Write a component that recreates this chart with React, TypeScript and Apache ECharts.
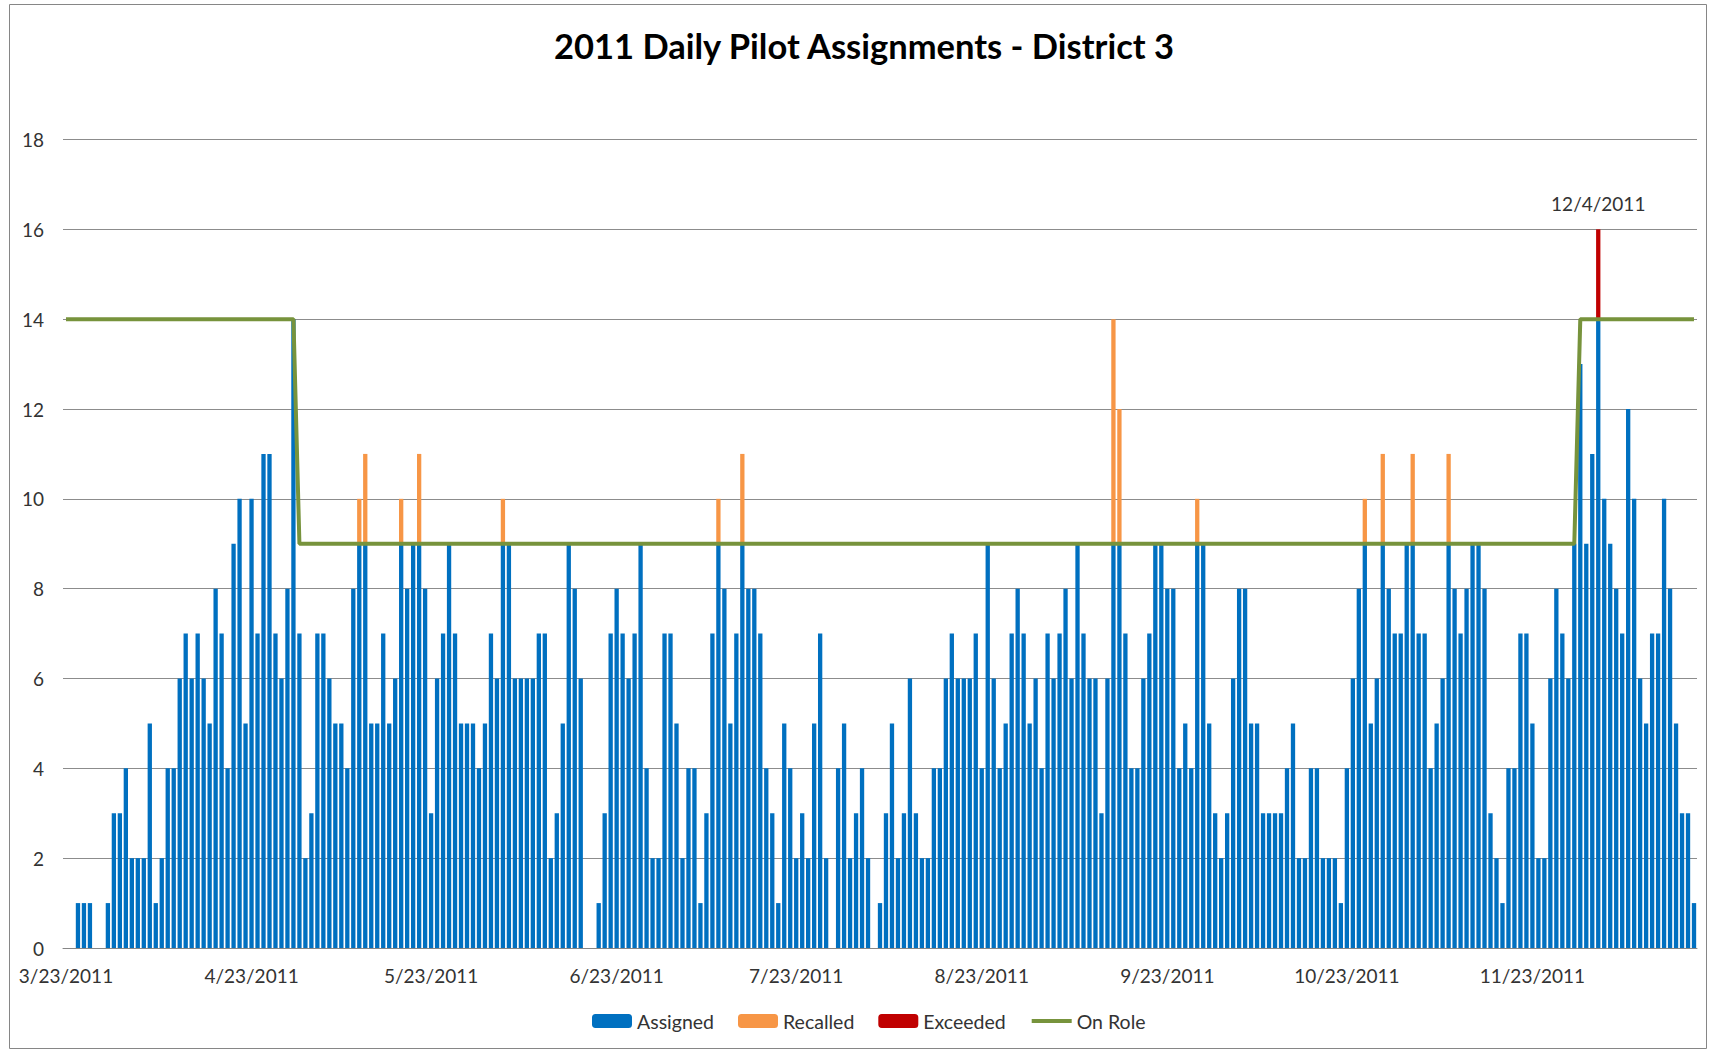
import React, { useEffect, useRef } from "react";
import * as echarts from "echarts";

// ---- Data ----
const START_DATE = "3/23/2011";
const TITLE = "2011 Daily Pilot Assignments - District 3";

// Daily assigned pilots, 3/23/2011 .. 12/20/2011 (one value per day, grouped by month)
const assignedMar = [0, 0, 1, 1, 1, 0, 0, 1, 3];
const assignedApr = [3, 4, 2, 2, 2, 5, 1, 2, 4, 4, 6, 7, 6, 7, 6, 5, 8, 7, 4, 9, 10, 5, 10, 7, 11, 11, 7, 6, 8, 14];
const assignedMay = [7, 2, 3, 7, 7, 6, 5, 5, 4, 8, 9, 9, 5, 5, 7, 5, 6, 9, 8, 9, 9, 8, 3, 6, 7, 9, 7, 5, 5, 5, 4];
const assignedJun = [5, 7, 6, 9, 9, 6, 6, 6, 6, 7, 7, 2, 3, 5, 9, 8, 6, 0, 0, 1, 3, 7, 8, 7, 6, 7, 9, 4, 2, 2];
const assignedJul = [7, 7, 5, 2, 4, 4, 1, 3, 7, 9, 8, 5, 7, 9, 8, 8, 7, 4, 3, 1, 5, 4, 2, 3, 2, 5, 7, 2, 0, 4, 5];
const assignedAug = [2, 3, 4, 2, 0, 1, 3, 5, 2, 3, 6, 3, 2, 2, 4, 4, 6, 7, 6, 6, 6, 7, 4, 9, 6, 4, 5, 7, 8, 7, 5];
const assignedSep = [6, 4, 7, 6, 7, 8, 6, 9, 7, 6, 6, 3, 6, 9, 9, 7, 4, 4, 6, 7, 9, 9, 8, 8, 4, 5, 4, 9, 9, 5];
const assignedOct = [3, 2, 3, 6, 8, 8, 5, 5, 3, 3, 3, 3, 4, 5, 2, 2, 4, 4, 2, 2, 2, 1, 4, 6, 8, 9, 5, 6, 9, 8, 7];
const assignedNov = [7, 9, 9, 7, 7, 4, 5, 6, 9, 8, 7, 8, 9, 9, 8, 3, 2, 1, 4, 4, 7, 7, 5, 2, 2, 6, 8, 7, 6, 9];
const assignedDec = [13, 9, 11, 14, 10, 9, 8, 7, 12, 10, 6, 5, 7, 7, 10, 8, 5, 3, 3, 1];

// Recalled (stacked on top of Assigned)
const recalledDays = ["5/11/2011", "5/12/2011", "5/18/2011", "5/21/2011", "6/4/2011", "7/10/2011", "7/14/2011", "9/14/2011", "9/15/2011", "9/28/2011", "10/26/2011", "10/29/2011", "11/3/2011", "11/9/2011"];
const recalledValues = [1, 2, 1, 2, 1, 1, 2, 5, 3, 1, 1, 2, 2, 2];

// Exceeded (stacked on top)
const exceededDays = ["12/4/2011"];
const exceededValues = [2];

// On Role level changes
const onRoleFrom = ["3/23/2011", "5/1/2011", "12/1/2011"];
const onRoleLevels = [14, 9, 14];

const yTicks = { min: 0, max: 18, interval: 2 };

// ---- Build tables ----
const assigned = [
  ...assignedMar, ...assignedApr, ...assignedMay, ...assignedJun, ...assignedJul,
  ...assignedAug, ...assignedSep, ...assignedOct, ...assignedNov, ...assignedDec,
];

function fmt(d: Date) {
  return `${d.getUTCMonth() + 1}/${d.getUTCDate()}/${d.getUTCFullYear()}`;
}
const [sm, sd, sy] = START_DATE.split("/").map(Number);
const startMs = Date.UTC(sy, sm - 1, sd);
const dates: string[] = assigned.map((_, i) => fmt(new Date(startMs + i * 86400000)));

const recalled = dates.map((d) => {
  const k = recalledDays.indexOf(d);
  return k >= 0 ? recalledValues[k] : 0;
});
const exceeded = dates.map((d) => {
  const k = exceededDays.indexOf(d);
  return k >= 0 ? exceededValues[k] : 0;
});
const onRole: number[] = [];
{
  let level = onRoleLevels[0];
  dates.forEach((d) => {
    const k = onRoleFrom.indexOf(d);
    if (k >= 0) level = onRoleLevels[k];
    onRole.push(level);
  });
}

const FONT = "Lato";
const TXT = "#333";

export default function App() {
  const ref = useRef<HTMLDivElement>(null);
  useEffect(() => {
    document.body.style.margin = "0";
    const chart = echarts.init(ref.current!, null, { renderer: "svg" });
    const option: any = {
      animation: false,
      backgroundColor: "#ffffff",
      textStyle: { fontFamily: FONT },
      graphic: [
        {
          type: "rect",
          silent: true,
          shape: { x: 9.5, y: 4.5, width: 1697, height: 1044 },
          style: { fill: "none", stroke: "#868686", lineWidth: 1 },
        },
        {
          type: "text",
          x: 864,
          y: 45,
          style: {
            text: TITLE,
            fontFamily: FONT,
            fontSize: 34.5,
            fontWeight: "bold",
            fill: "#000",
            align: "center",
            verticalAlign: "middle",
          },
        },
      ],
      grid: {
        left: 63,
        right: 12,
        top: 139.5,
        bottom: 102,
        containLabel: false,
        outerBoundsMode: "none",
      },
      legend: {
        left: 587,
        top: 1006,
        itemWidth: 40,
        itemHeight: 14,
        itemGap: 24,
        textStyle: { fontSize: 19.5, color: TXT, fontFamily: FONT },
        data: [
          "Assigned",
          "Recalled",
          "Exceeded",
          { name: "On Role", itemStyle: { opacity: 0 }, lineStyle: { width: 4 } },
        ],
      },
      xAxis: {
        type: "category",
        data: dates,
        boundaryGap: true,
        axisLine: { lineStyle: { color: "#868686", width: 1 } },
        axisTick: { show: false },
        axisLabel: {
          interval: (_i: number, v: string) => v.split("/")[1] === "23",
          fontSize: 19,
          color: TXT,
          margin: 18,
          fontFamily: FONT,
        },
        splitLine: { show: false },
      },
      yAxis: {
        type: "value",
        min: yTicks.min,
        max: yTicks.max,
        interval: yTicks.interval,
        axisLine: { show: false },
        axisTick: { show: false },
        axisLabel: { fontSize: 19, color: TXT, margin: 19, fontFamily: FONT },
        splitLine: { lineStyle: { color: "#8c8c8c", width: 1 } },
      },
      series: [
        {
          name: "Assigned",
          type: "bar",
          stack: "day",
          data: assigned,
          barCategoryGap: "28%",
          itemStyle: { color: "#0070C0" },
        },
        {
          name: "Recalled",
          type: "bar",
          stack: "day",
          data: recalled,
          barCategoryGap: "28%",
          itemStyle: { color: "#F79646" },
        },
        {
          name: "Exceeded",
          type: "bar",
          stack: "day",
          data: exceeded,
          barCategoryGap: "28%",
          itemStyle: { color: "#C00000" },
          label: {
            show: true,
            position: "top",
            distance: 16,
            fontSize: 19,
            color: TXT,
            fontFamily: FONT,
            formatter: (p: any) => (p.value > 0 ? p.name : ""),
          },
        },
        {
          name: "On Role",
          type: "line",
          data: onRole,
          symbol: "none",
          lineStyle: { color: "#77933C", width: 4 },
          itemStyle: { color: "#77933C" },
          z: 5,
        },
      ],
    };
    chart.setOption(option);
    return () => chart.dispose();
  }, []);
  return <div ref={ref} style={{ width: 1709, height: 1050 }} />;
}
